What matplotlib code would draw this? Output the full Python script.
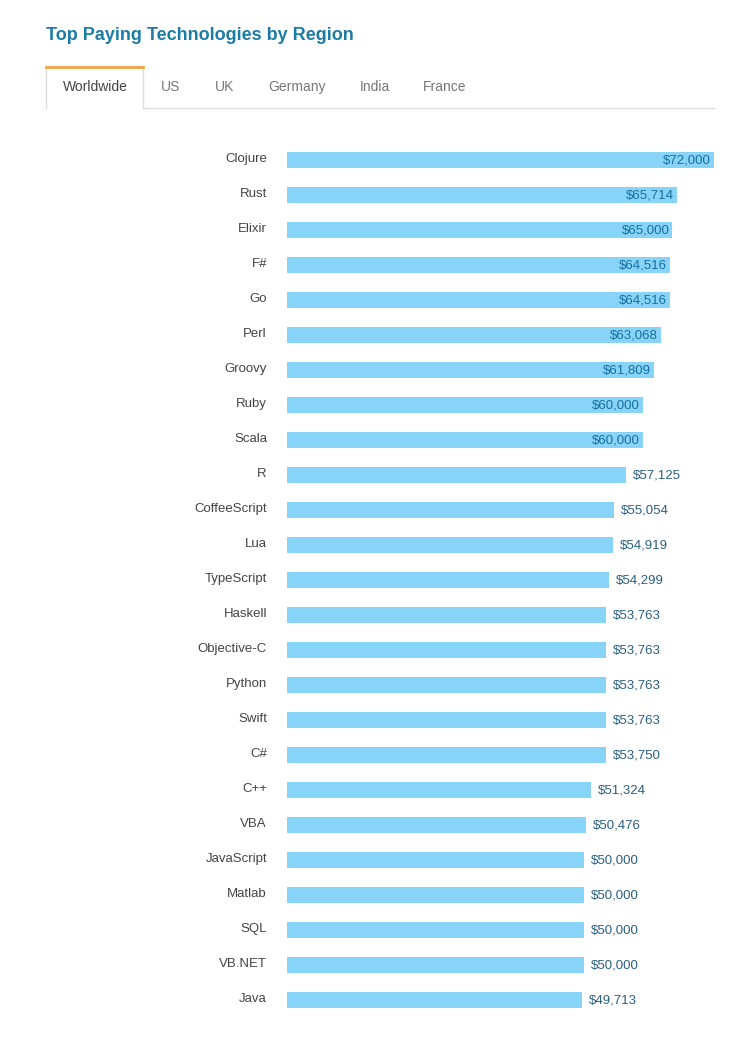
import matplotlib
matplotlib.use('Agg')
import matplotlib.pyplot as plt
from matplotlib.lines import Line2D

plt.rcParams['font.family'] = ['Liberation Sans', 'DejaVu Sans']

# データ
technologies = ['Clojure', 'Rust', 'Elixir', 'F#', 'Go', 'Perl', 'Groovy', 'Ruby', 'Scala',
                'R', 'CoffeeScript', 'Lua', 'TypeScript', 'Haskell', 'Objective-C', 'Python',
                'Swift', 'C#', 'C++', 'VBA', 'JavaScript', 'Matlab', 'SQL', 'VB.NET', 'Java']
salaries = [72000, 65714, 65000, 64516, 64516, 63068, 61809, 60000, 60000,
            57125, 55054, 54919, 54299, 53763, 53763, 53763,
            53763, 53750, 51324, 50476, 50000, 50000, 50000, 50000, 49713]
tabs = ['Worldwide', 'US', 'UK', 'Germany', 'India', 'France']
tab_x = [95, 171, 225, 297, 375, 445]

W, H = 753, 1049
fig = plt.figure(figsize=(W / 100, H / 100), dpi=100)


def fx(px):
    return px / W


def fy(py):
    return 1 - py / H


# タイトル
fig.text(fx(46), fy(36), 'Top Paying Technologies by Region', fontsize=13, fontweight='bold',
         color='#1b7ca6', va='center', ha='left')

# タブ
fig.add_artist(Line2D([fx(46), fx(46)], [fy(67), fy(108)], color='#dddddd', lw=1))
fig.add_artist(Line2D([fx(143), fx(143)], [fy(67), fy(108)], color='#dddddd', lw=1))
fig.add_artist(Line2D([fx(143), fx(714)], [fy(108), fy(108)], color='#dddddd', lw=1))
fig.add_artist(Line2D([fx(46), fx(143)], [fy(67), fy(67)], color='#eea444', lw=2))
for i, (t, x) in enumerate(zip(tabs, tab_x)):
    fig.text(fx(x), fy(87), t, fontsize=10, color='#444444' if i == 0 else '#777777',
             ha='center', va='center')

# 棒グラフ
n = len(technologies)
ax = fig.add_axes([fx(287), fy(142.5 + 35 * n), fx(714) - fx(287), 35 * n / H])
ax.barh(range(n), salaries, height=0.46, color='#87d4f8')
ax.set_xlim(0, 72000)
ax.set_ylim(n - 0.5, -0.5)
ax.axis('off')

for i, (name, val) in enumerate(zip(technologies, salaries)):
    ax.annotate(name, (0, i), xytext=(-14.4, 0.8), textcoords='offset points',
                ha='right', va='center', fontsize=9.5, color='#444444')
    label = f'${val:,}'
    if val >= 60000:
        ax.annotate(label, (val, i), xytext=(-2, -0.5), textcoords='offset points',
                    ha='right', va='center', fontsize=9.5, color='#156fa0')
    else:
        ax.annotate(label, (val, i), xytext=(5, -0.5), textcoords='offset points',
                    ha='left', va='center', fontsize=9.5, color='#2a5f80')

fig.savefig('out.png', dpi=100, facecolor='white')
